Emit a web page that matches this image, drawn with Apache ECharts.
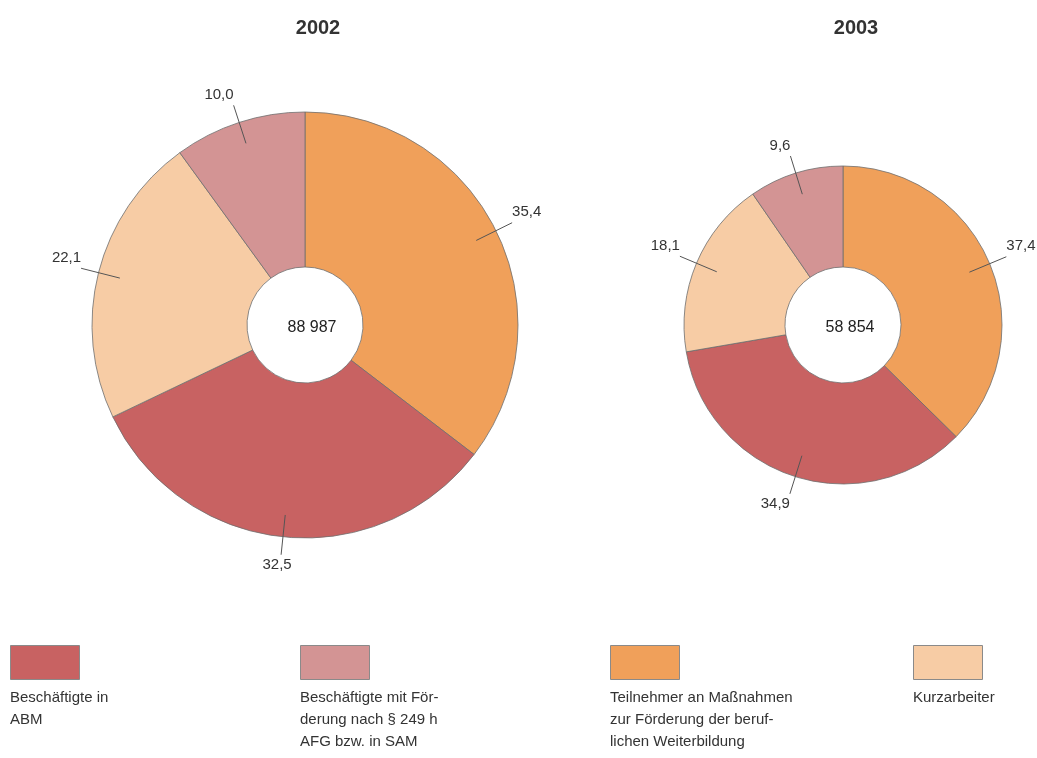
<!DOCTYPE html>
<html>
<head>
<meta charset="utf-8">
<script src="https://cdn.jsdelivr.net/npm/echarts@6/dist/echarts.min.js"></script>
<style>
  html, body { margin: 0; padding: 0; background: #fff; }
  #chart { width: 1037px; height: 758px; }
</style>
</head>
<body>
<div id="chart"></div>
<script>
// Kategorien (Legendenreihenfolge)
const categories = [
  "Beschäftigte in\nABM",
  "Beschäftigte mit För-\nderung nach § 249 h\nAFG bzw. in SAM",
  "Teilnehmer an Maßnahmen\nzur Förderung der beruf-\nlichen Weiterbildung",
  "Kurzarbeiter"
];
const colors = ["#c86262", "#d39494", "#f0a05a", "#f7cca5"];
// Reihenfolge der Segmente im Uhrzeigersinn ab 12 Uhr
const sliceOrder = [2, 0, 3, 1];

const years = ["2002", "2003"];
const totals = ["88 987", "58 854"];
// Anteile in % je Kategorie (Legendenreihenfolge)
const values2002 = [32.5, 10.0, 35.4, 22.1];
const values2003 = [34.9, 9.6, 37.4, 18.1];

const chartDom = document.getElementById("chart");
const myChart = echarts.init(chartDom);

const fmt = v => v.toFixed(1).replace(".", ",");
const font = "Liberation Sans, Arial, sans-serif";

function sliceData(values, colored) {
  return sliceOrder.map(i => {
    const d = { name: categories[i], value: values[i] };
    if (colored) d.itemStyle = { color: colors[i] };
    return d;
  });
}

// Geometrie der beiden Ringe
const rings = [
  { center: [305, 325], inner: 58, outer: 213, values: values2002 },
  { center: [843, 325], inner: 58, outer: 159, values: values2003 }
];

// Beschriftung oberhalb bzw. unterhalb des Linienendes
function placeLabel(cx, cy) {
  return function (params) {
    const pts = params.labelLinePoints;
    if (!pts) return {};
    const end = pts[pts.length - 1];
    const dx = end[0] - cx;
    const dy = end[1] - cy;
    let align = dx > 0 ? "left" : "right";
    if (Math.abs(dx) < 40) align = "center";
    const up = dy < 0;
    return {
      x: end[0] + (align === "center" ? -4 : 0),
      y: end[1] + (up ? -3 : 3),
      align: align,
      verticalAlign: up ? "bottom" : "top",
      labelLinePoints: pts
    };
  };
}

const series = [];
rings.forEach(r => {
  series.push({
    type: "pie",
    center: r.center,
    radius: [r.inner, r.outer],
    startAngle: 90,
    clockwise: true,
    silent: true,
    label: { show: false },
    labelLine: { show: false },
    itemStyle: { borderColor: "#6e6e6e", borderWidth: 0.8 },
    data: sliceData(r.values, true)
  });
  // unsichtbarer Ring nur für die Beschriftungen
  series.push({
    type: "pie",
    center: r.center,
    radius: [0, r.outer - 22],
    startAngle: 90,
    clockwise: true,
    silent: true,
    z: 5,
    avoidLabelOverlap: false,
    itemStyle: { color: "rgba(0,0,0,0)", borderWidth: 0 },
    label: {
      show: true,
      position: "outside",
      formatter: p => fmt(p.value),
      color: "#333",
      fontSize: 15,
      fontFamily: font,
      distanceToLabelLine: 4
    },
    labelLine: {
      show: true,
      length: 40,
      length2: 0,
      smooth: false,
      lineStyle: { color: "#555", width: 1 }
    },
    labelLayout: placeLabel(r.center[0], r.center[1]),
    data: sliceData(r.values, false)
  });
});

// Legende: Kästchen mit Text darunter
const legendX = [10, 300, 610, 913];
const graphic = [];
categories.forEach((c, i) => {
  graphic.push({
    type: "rect",
    left: legendX[i],
    top: 645,
    shape: { width: 69, height: 34 },
    style: { fill: colors[i], stroke: "#8a8a8a", lineWidth: 1 }
  });
  graphic.push({
    type: "text",
    left: legendX[i],
    top: 687,
    style: {
      text: c,
      fill: "#333",
      fontSize: 15,
      lineHeight: 22,
      fontFamily: font
    }
  });
});

const option = {
  backgroundColor: "#fff",
  animation: false,
  title: [
    ...years.map((y, i) => ({
      text: y,
      left: rings[i].center[0] + 8,
      top: 13,
      textAlign: "center",
      textStyle: { fontSize: 20, fontWeight: "bold", color: "#333", fontFamily: font }
    })),
    ...totals.map((t, i) => ({
      text: t,
      left: rings[i].center[0] + 2,
      top: rings[i].center[1] - 10,
      textAlign: "center",
      textStyle: { fontSize: 16, fontWeight: "normal", color: "#222", fontFamily: font }
    }))
  ],
  series: series,
  graphic: graphic
};

option && myChart.setOption(option);
</script>
</body>
</html>
